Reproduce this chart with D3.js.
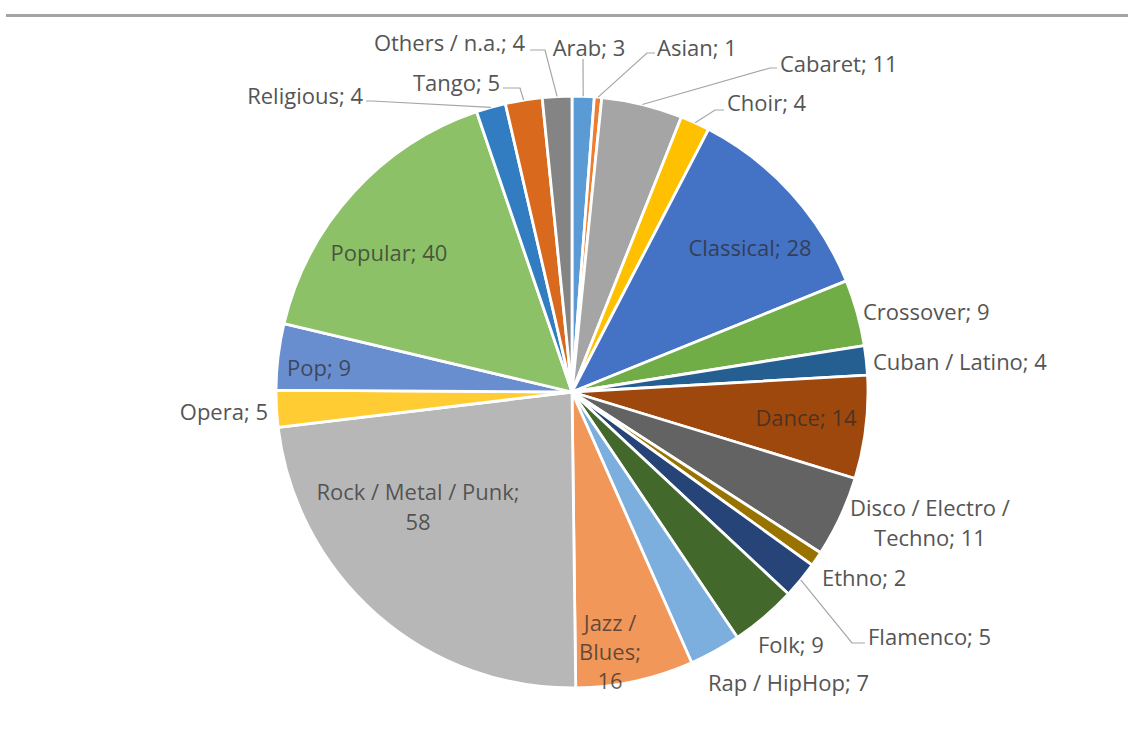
<!DOCTYPE html>
<html>
<head>
<meta charset="utf-8">
<script src="https://cdn.jsdelivr.net/npm/d3@7"></script>
<style>
  body { margin: 0; background: #ffffff; }
  svg { display: block; }
  text { font-family: "Open Sans", "Noto Sans", sans-serif; font-size: 22px; }
</style>
</head>
<body>
<svg id="chart" width="1128" height="756"></svg>
<script>
// Music genres and number of entries per genre
const genres = [
  "Arab", "Asian", "Cabaret", "Choir", "Classical", "Crossover", "Cuban / Latino",
  "Dance", "Disco / Electro / Techno", "Ethno", "Flamenco", "Folk", "Rap / HipHop",
  "Jazz / Blues", "Rock / Metal / Punk", "Opera", "Pop", "Popular", "Religious",
  "Tango", "Others / n.a."
];
const counts = [3, 1, 11, 4, 28, 9, 4, 14, 11, 2, 5, 9, 7, 16, 58, 5, 9, 40, 4, 5, 4];
const sliceColors = [
  "#5B9BD5", "#ED7D31", "#A5A5A5", "#FFC000", "#4472C4", "#70AD47", "#255E91",
  "#9E480E", "#636363", "#997300", "#264478", "#43682B", "#7CAFDD",
  "#F1975A", "#B7B7B7", "#FFCD33", "#698ED0", "#8CC168", "#327DC2",
  "#D8691D", "#848484"
];

// Label placement: anchor point, alignment, words per line, optional leader path
const labelLayout = {
  "Arab":                     { x: 589, y: 48,  anchor: "middle", leader: [[583, 59]] },
  "Asian":                    { x: 657, y: 48,  anchor: "start",  leader: [[655, 53], [647, 53]] },
  "Cabaret":                  { x: 780, y: 64,  anchor: "start",  leader: [[777, 68], [770, 68]] },
  "Choir":                    { x: 727, y: 103, anchor: "start",  leader: [[724, 110], [715, 110]] },
  "Classical":                { x: 750, y: 248, anchor: "middle", inside: true },
  "Crossover":                { x: 863, y: 312, anchor: "start" },
  "Cuban / Latino":           { x: 873, y: 362, anchor: "start" },
  "Dance":                    { x: 806, y: 418, anchor: "middle", inside: true },
  "Disco / Electro / Techno": { x: 930, y: 508, anchor: "middle", wrap: [4, 2], lh: 30 },
  "Ethno":                    { x: 822, y: 578, anchor: "start" },
  "Flamenco":                 { x: 868, y: 637, anchor: "start",  leader: [[865, 643], [852, 643]] },
  "Folk":                     { x: 758, y: 645, anchor: "start" },
  "Rap / HipHop":             { x: 708, y: 683, anchor: "start" },
  "Jazz / Blues":             { x: 610, y: 623, anchor: "middle", inside: true, wrap: [2, 1, 1], lh: 29 },
  "Rock / Metal / Punk":      { x: 418, y: 492, anchor: "middle", inside: true, wrap: [5, 1], lh: 30 },
  "Opera":                    { x: 268, y: 412, anchor: "end" },
  "Pop":                      { x: 287, y: 368, anchor: "start",  inside: true },
  "Popular":                  { x: 389, y: 253, anchor: "middle", inside: true },
  "Religious":                { x: 363, y: 96,  anchor: "end",    leader: [[366, 101], [372, 101]] },
  "Tango":                    { x: 500, y: 83,  anchor: "end",    leader: [[503, 88], [520, 88]] },
  "Others / n.a.":            { x: 525, y: 43,  anchor: "end",    leader: [[530, 50], [545, 50]] }
};

const svg = d3.select("#chart");
const cx = 572, cy = 392, radius = 296;

// thin gray rule across the top of the frame
svg.append("rect").attr("x", 6).attr("y", 14).attr("width", 1122).attr("height", 3)
  .attr("fill", "#a4a4a4");

const records = genres.map((g, i) => ({ genre: g, value: counts[i], color: sliceColors[i] }));

const pie = d3.pie().sort(null).value(d => d.value).startAngle(0).endAngle(2 * Math.PI);
const arcs = pie(records);
const arc = d3.arc().innerRadius(0).outerRadius(radius);

const g = svg.append("g").attr("transform", `translate(${cx},${cy})`);

g.selectAll("path.slice")
  .data(arcs)
  .join("path")
  .attr("class", "slice")
  .attr("d", arc)
  .attr("fill", d => d.data.color)
  .attr("stroke", "#ffffff")
  .attr("stroke-width", 2.8)
  .attr("stroke-linejoin", "round");

// leader lines: from the label to the slice's outer edge at its middle angle
const edgePoint = d => {
  const a = (d.startAngle + d.endAngle) / 2;
  return [cx + radius * Math.sin(a), cy - radius * Math.cos(a)];
};

arcs.forEach(d => {
  const lay = labelLayout[d.data.genre];
  if (!lay || !lay.leader) return;
  const pts = lay.leader.concat([edgePoint(d)]);
  svg.append("path")
    .attr("d", d3.line()(pts))
    .attr("fill", "none")
    .attr("stroke", "#a6a6a6")
    .attr("stroke-width", 1.2);
});

// data labels "Genre; value"
arcs.forEach(d => {
  const lay = labelLayout[d.data.genre];
  const full = `${d.data.genre}; ${d.data.value}`;
  const words = full.split(" ");
  let lines = [full];
  if (lay.wrap) {
    lines = [];
    let k = 0;
    lay.wrap.forEach(n => { lines.push(words.slice(k, k + n).join(" ")); k += n; });
  }
  const t = svg.append("text")
    .attr("text-anchor", lay.anchor)
    .attr("fill", lay.inside ? "#2b2b2b" : "#555555")
    .attr("fill-opacity", lay.inside ? 0.72 : 1);
  lines.forEach((ln, i) => {
    t.append("tspan")
      .attr("x", lay.x)
      .attr("y", lay.y + 8 + i * (lay.lh || 30))
      .text(ln);
  });
});
</script>
</body>
</html>
